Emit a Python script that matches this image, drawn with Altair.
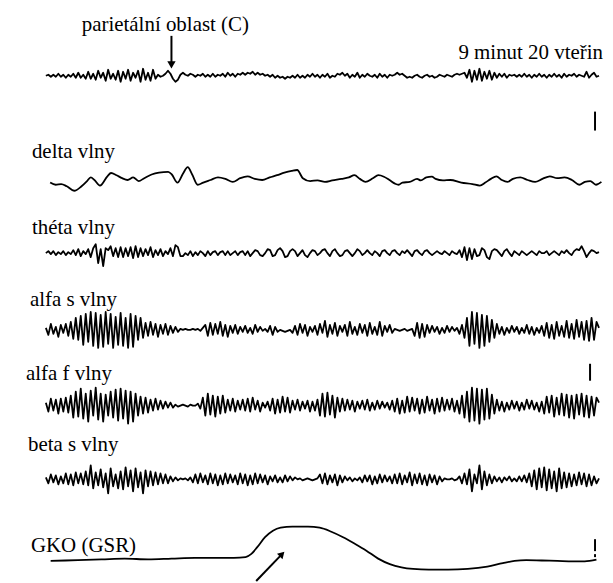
import altair as alt
import pandas as pd

# ---------------- data (amplitudes, px-like units, + = up)
PARIETAL = [0,1,-1,1,-1,2,-1,1,-2,1, -1,2,-2,3,-2,1,-3,4,-3,2, -4,5,-2,3,-5,6,-3,2,-4,5,
            -6,4,-3,6,-5,3,-2,5,-6,7, -4,3,-5,6,-3,1,-1,0,2,5, 2,-3,-6,-4,1,3,1,0,2,1,
            -1,1,0,2,-1,1,-1,2,-1,1, 0,2,-1,3,0,2,-1,2,1,3, 1,3,2,4,1,3,1,2,0,1,
            -1,1,-2,0,-2,-1,-3,-1,-2,0, -2,1,-2,0,-2,1,-1,2,-1,1, -2,1,-1,2,-2,0,-1,2,1,3,
            0,2,-2,1,-1,3,-2,1,-1,2, 0,-1,1,-2,2,-1,1,-2,1,0, 1,3,1,2,0,-2,-1,-2,0,1,
            -1,-2,0,1,-1,0,-2,-1,1,0, -1,1,0,-1,1,2,1,2,3,-2, 6,-6,5,-4,7,-5,4,-3,5,-4,
            3,-2,2,-1,2,-2,1,0,1,-1, 1,-1,2,-1,1,-2,1,-1,2,-1, 1,-2,1,-1,2,-1,1,-2,2,-1,
            1,0,2,-1,1,0,-1,4,-2,1, 3,-1,0]

THETA = [0,2,-1,2,-2,1,-1,2,-2,1, -1,3,-2,4,-3,2,-1,4,-4,5, 9,-10,4,-13,5,3,7,-3,5,-4,
         6,-4,5,-3,6,-5,7,-4,5,-3, 4,-2,6,-4,3,-2,4,-3,2,-1, 5,-3,8,6,-3,-3,0,-2,2,-3,
         1,-2,2,0,-3,2,-2,1,2,-2, 1,2,-2,2,-2,0,2,-2,1,2, -2,2,-3,0,3,2,-2,-3,0,4,
         3,-3,-2,3,5,2,-4,-3,2,4, 2,-3,0,3,-2,-4,0,3,2,-2, 0,3,4,0,-3,2,4,0,-3,-2,
         2,3,0,-3,0,4,2,-2,0,3, 0,-2,2,0,-3,2,3,0,-2,2, 3,0,-2,2,0,3,0,-3,2,3,
         0,-2,2,3,0,-2,0,2,0,-1, 2,0,-2,2,0,-1,3,-4,6,-7, 5,-6,4,-3,-2,5,3,-4,-6,2,
         4,3,0,-3,2,4,0,-3,2,0, -2,2,0,-2,0,2,0,-2,2,0, 0,2,-2,0,2,0,-2,2,0,3,
         0,-2,2,4,3,7,2,-4,0,3, 2,0,1]

ALFA_S = [2,-5,6,-4,3,-7,5,-3,6,-6, 8,-9,12,-10,14,-15,16,-12,18,-16, 17,-18,15,-17,18,-14,16,-18,13,-15,
          17,-16,12,-18,16,-17,14,-10,12,-8, 7,-6,8,-5,6,-7,5,-4,6,-5, 4,-3,3,-2,1,0,1,0,0,1,
          0,1,-1,2,5,-6,7,-5,6,-4, 8,-6,5,-7,4,-3,5,-4,3,-2, 4,-3,2,-4,5,-2,3,-1,1,-2,
          4,-5,3,-2,0,-1,-2,-1,0,-3, 4,-5,6,-3,5,-6,3,-2,4,-5, 6,-3,9,-7,5,-4,7,-6,4,-2,
          5,-6,8,-4,3,-5,6,-3,5,-6, 7,-4,3,-5,8,-6,4,-2,5,-3, 1,0,-1,0,1,-1,0,1,-6,7,
          -8,6,-7,5,-3,4,-2,3,-4,2, -3,4,-2,3,-1,2,-4,5,-8,12, -16,18,-14,17,-18,15,-16,14,-12,10,
          -8,6,-4,3,-5,2,-3,4,-2,3, -4,2,-3,5,-4,3,-5,2,-3,4, -6,7,-8,5,-9,8,-6,4,-7,9,
          -8,6,-9,10,-7,8,-10,9,-11,12, -10,8,2]

ALFA_F = [3,-6,7,-5,6,-8,7,-6,8,-7, 10,-12,14,-11,17,-13,12,-16,15,-10, 18,-14,12,-16,11,-10,14,-12,16,-15,
          17,-13,15,-18,14,-16,12,-10,9,-8, 8,-7,6,-5,7,-4,5,-3,4,-2, 3,-2,1,-1,0,1,0,-1,1,0,
          0,2,-3,8,-10,12,-9,10,-11,9, -8,10,-7,6,-5,7,-6,5,-4,6, -5,7,-6,8,-4,5,-6,3,-2,4,
          -5,7,-8,6,-7,9,-6,8,-7,5, -4,6,-5,4,-3,5,-6,4,-5,6, -10,12,-11,13,-9,10,-12,8,-6,7,
          -5,6,-4,5,-6,4,-3,5,-4,6, -5,3,-4,5,-3,4,-2,3,-4,5, -6,7,-8,5,-7,9,-6,8,-5,7,
          -8,6,-7,9,-5,6,-8,7,-6,8, -5,6,-4,7,-6,5,-8,10,-12,14, -16,18,-15,17,-18,16,-14,17,-13,11,
          -8,6,-5,4,-6,3,-4,5,-3,4, -5,3,-4,6,-3,5,-4,3,-6,4, -8,9,-7,10,-11,8,-9,12,-10,11,
          -12,10,-13,11,-9,12,-11,10,-12,9, -10,8,3]

BETA_S = [2,-4,5,-3,4,-5,3,-4,6,-5, 5,-6,7,-4,6,-5,8,-6,14,-9, 7,-6,10,-8,6,-14,11,-7,5,-9,
          8,-10,12,-7,9,-12,11,-8,7,-14, 9,-7,8,-6,7,-5,6,-4,5,-4, 3,-2,2,-1,1,0,1,-1,2,-3,
          5,-4,6,-3,4,-5,6,-4,5,-6, 4,-5,6,-4,5,-3,4,-5,6,-4, 5,-6,4,-5,6,-4,5,-3,4,-5,
          3,-2,4,-3,2,-3,4,-2,3,-1, 2,0,1,-1,0,1,0,-1,0,1, 5,-4,6,-5,4,-3,5,-6,4,-3,
          3,-1,2,-2,1,-1,2,-3,4,-2, 4,-5,3,-4,5,-3,4,-2,3,-4, 5,-4,6,-5,4,-3,7,-6,5,-4,
          6,-5,4,-6,5,-3,4,-5,3,-2, 1,0,0,1,-1,0,3,-4,6,-5, 10,-12,5,-4,14,-10,8,-6,5,-4,
          3,-2,2,-3,2,-1,3,-2,1,-2, 3,-2,4,-3,6,-7,9,-10,11,-8, 12,-11,10,-9,8,-12,11,-9,7,-8,
          6,-7,5,-6,7,-5,6,-7,5,-6, 3,-4,1]

DELTA_X = [50.3,55.9,61.4,67,74.4,81.8,87.3,91,94.7,100.3,107.7,111.4,116.9,122.5,128,133.6,139.1,
           144.7,152.1,159.5,168.7,172.4,178,183.5,188.3,192.8,198.3,203.9,211.3,218.7,226.1,233.5,
           240.9,248.3,255.7,263.1,270.5,277.9,285.3,292.7,298.2,303.8,311.2,318.6,326,333.4,342.6,
           350,355.6,361.1,366.7,374.1,379.6,385.2,390.7,396.3,400,403.7,411,418.4,422.2,427.7,433.3,
           437,444.4,451.8,462.8,474,481.4,486.9,492.5,498,503.5,509.1,514.6,522,529.4,536.9,544.2,
           551.6,559,566.4,573.8,581.2,586.8,592.3,597.9,603.4]
DELTA_V = [-2.2,-4.4,-3.7,-5.9,-10.4,-5.9,-0.7,3,0.4,-5.2,4.1,7.4,5.2,2.2,0.4,3,-0.7,2.2,5.9,7.8,
           8.5,5.9,-2.2,6.7,13.3,5.9,-4.4,-2.2,0.4,3,1.5,-1.5,2.2,4.1,1.5,0.4,3,5.2,7.8,9.6,10.4,
           2.2,-0.7,0,-1.5,0,1.5,3,5.2,1.5,-1.5,2.2,5.2,3.7,0.4,-3.3,-4.4,-2.2,-1.5,1.5,0,3,3.7,
           1.5,0,0.4,-2.2,-3.7,-5.2,-2.2,1.5,4.1,0.4,-1.5,1.5,3,0.4,-1.5,1.5,4.1,2.2,3,0.4,-4.4,
           -1.5,-0.7,-4.4,-1.5]

GKO_X = [50.8,78.2,101.7,125.1,148.6,172.1,195.5,219,234.6,246.4,252.2,258.1,265.9,273.8,281.6,
         293.3,309,320.7,332.4,344.2,355.9,367.6,379.4,391.1,402.8,414.5,430.2,449.7,469.3,488.9,
         504.5,516.2,528,543.6,559.2,574.9,586.6,598.4]
GKO_V = [-1.8,-1,-0.3,0.5,-0.3,0.5,1.3,1.3,1.3,2.1,5.2,12,22,28.5,31.5,32.5,32.5,31.5,27.5,
         22,15.5,8.5,0.5,-5,-8.2,-9.8,-10.5,-10.5,-9.8,-7.5,-4,-1.8,-1,-1.4,-1.8,-2.2,-2.2,-0.5]

LABELS = ["parietální oblast (C)", "delta vlny", "théta vlny",
          "alfa s vlny", "alfa f vlny", "beta s vlny", "GKO (GSR)"]
TIME_LABEL = "9 minut 20 vteřin"

# ---------------- layout (image-like coordinate system)
X0, STEP = 46, 2.5
BASE = {"parietal": 75, "delta": 180, "theta": 253, "alfa_s": 330,
        "alfa_f": 406, "beta_s": 480, "gko": 560}
LABEL_POS = [(82, 24), (32, 152), (32, 228), (30, 300), (26, 374), (28, 446), (31, 547)]
TIME_POS = (605, 52)

rows = []
for name, vals in [("parietal", PARIETAL), ("theta", THETA), ("alfa_s", ALFA_S),
                   ("alfa_f", ALFA_F), ("beta_s", BETA_S)]:
    for i, v in enumerate(vals):
        rows.append({"trace": name, "x": X0 + i * STEP, "y": BASE[name] - v})
fast = pd.DataFrame(rows)
smooth = pd.DataFrame(
    [{"trace": "delta", "x": x, "y": BASE["delta"] - v} for x, v in zip(DELTA_X, DELTA_V)] +
    [{"trace": "gko", "x": x, "y": BASE["gko"] - v} for x, v in zip(GKO_X, GKO_V)]
)

labels = pd.DataFrame([{"t": t, "x": p[0], "y": p[1]} for t, p in zip(LABELS, LABEL_POS)])
tlabel = pd.DataFrame([{"t": TIME_LABEL, "x": TIME_POS[0], "y": TIME_POS[1]}])

segs = pd.DataFrame([
    {"x": 172, "y": 35, "x2": 172, "y2": 62},     # arrow parietal
    {"x": 257, "y": 582, "x2": 281, "y2": 557},   # arrow GKO
    {"x": 597, "y": 111, "x2": 597, "y2": 130},   # calibration marks
    {"x": 592, "y": 364, "x2": 592, "y2": 381},
    {"x": 597, "y": 540, "x2": 597, "y2": 552},
    {"x": 597, "y": 555, "x2": 597, "y2": 558},
])
heads = pd.DataFrame([
    {"x": 172, "y": 64},
    {"x": 283, "y": 555},
])

xs = alt.Scale(domain=[8, 605])
ys = alt.Scale(domain=[575, 8])
X = alt.X("x:Q", scale=xs, axis=None)
Y = alt.Y("y:Q", scale=ys, axis=None)

fast_lines = alt.Chart(fast).mark_line(color="black", strokeWidth=1.8, strokeJoin="round").encode(
    x=X, y=Y, detail="trace:N", order="x:Q")
smooth_lines = alt.Chart(smooth).mark_line(color="black", strokeWidth=1.8,
                                           interpolate="monotone").encode(
    x=X, y=Y, detail="trace:N", order="x:Q")
text = alt.Chart(labels).mark_text(align="left", baseline="middle", font="Liberation Serif",
                                   fontSize=21, color="black").encode(x=X, y=Y, text="t:N")
ttext = alt.Chart(tlabel).mark_text(align="right", baseline="middle", font="Liberation Serif",
                                    fontSize=21, color="black").encode(x=X, y=Y, text="t:N")
rules = alt.Chart(segs).mark_rule(color="black", strokeWidth=2).encode(
    x=X, y=Y, x2="x2:Q", y2="y2:Q")
arrow1 = alt.Chart(heads.iloc[[0]]).mark_point(shape="triangle-down", filled=True, color="black",
                                                size=70, opacity=1).encode(x=X, y=Y)
arrow2 = alt.Chart(heads.iloc[[1]]).mark_point(shape="triangle-up", filled=True, color="black",
                                                size=60, opacity=1, angle=44).encode(x=X, y=Y)

chart = alt.layer(fast_lines, smooth_lines, text, ttext, rules, arrow1, arrow2).properties(
    width=597, height=567, padding=0,
).configure_view(stroke=None)

chart.save("out.html", embed_options={"renderer": "svg", "actions": False})
